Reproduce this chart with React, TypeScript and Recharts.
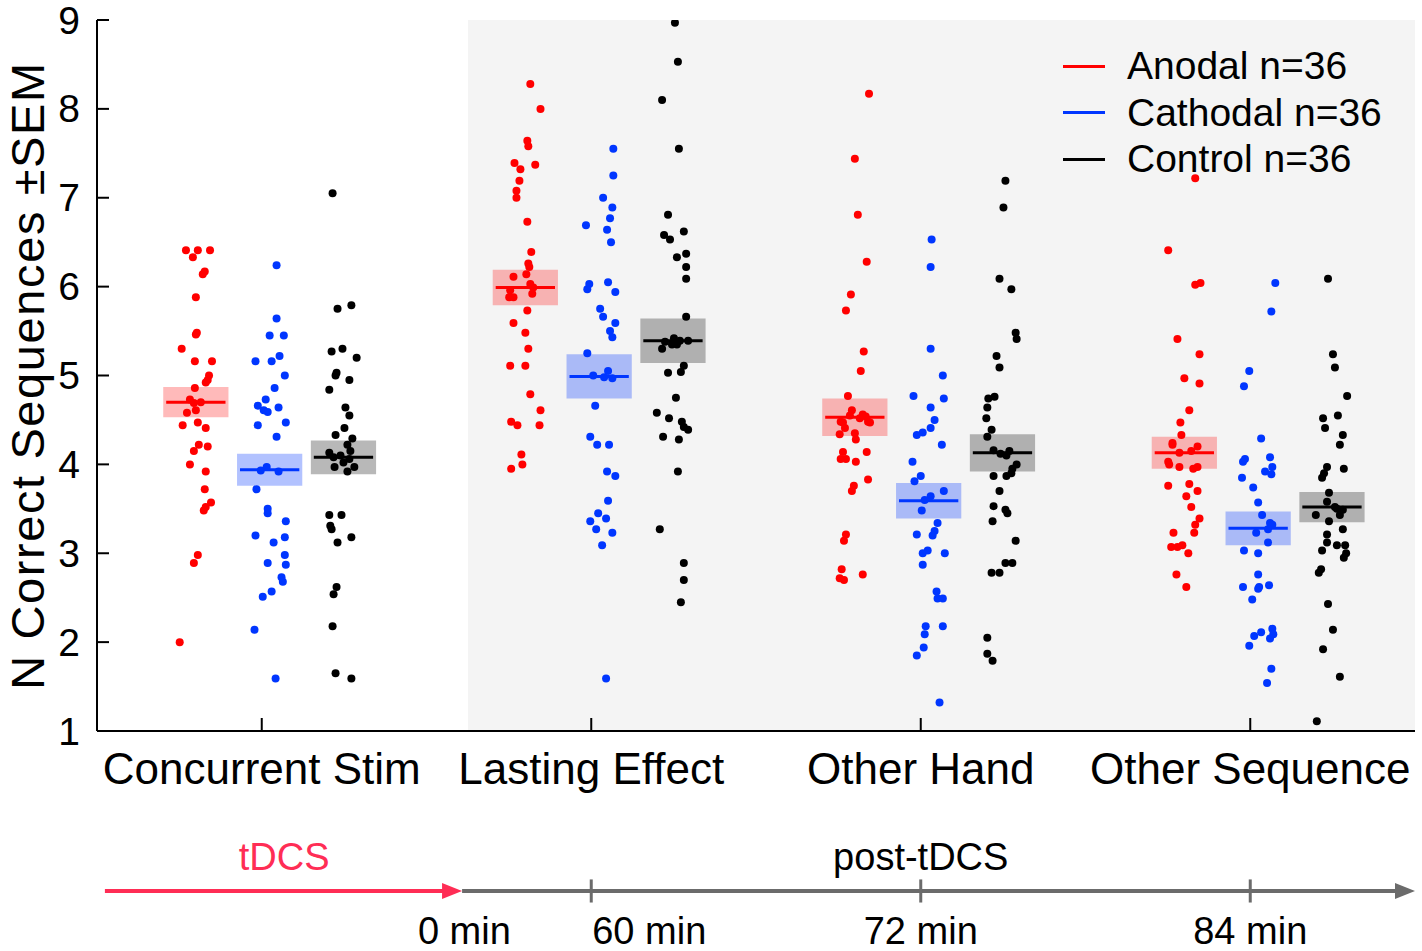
import React from 'react';
import { ComposedChart, Scatter, XAxis, YAxis, ReferenceArea, ReferenceLine, ReferenceDot } from 'recharts';

const FONT = '"Liberation Sans", Arial, Helvetica, sans-serif';

const groupNames = ['Concurrent Stim', 'Lasting Effect', 'Other Hand', 'Other Sequence'];
const yTicks = [1, 2, 3, 4, 5, 6, 7, 8, 9];
const conditionNames = ['Anodal n=36', 'Cathodal n=36', 'Control n=36'];
const conditionColors = ['#ff0000', '#0036ff', '#000000'];
const boxOpacity = [0.27, 0.3, 0.28];

// each point: [horizontal jitter (axis units), n correct sequences]
const anodalConcurrent = [
  [-0.030, 6.41], [0.006, 6.41], [0.043, 6.41], [-0.009, 6.33], [0.021, 6.14], [0.027, 6.17], [0, 5.88], [0, 5.46],
  [0.003, 5.48], [-0.043, 5.30], [-0.003, 5.16], [0.049, 5.16], [0.040, 5.00], [0.036, 4.95], [0.030, 4.92], [-0.003, 4.86],
  [-0.018, 4.73], [-0.006, 4.69], [0.015, 4.70], [-0.027, 4.58], [0, 4.61], [-0.040, 4.44], [0.006, 4.47], [0.030, 4.41],
  [0.009, 4.22], [0.036, 4.20], [-0.006, 4.15], [-0.018, 4.00], [0.030, 3.92], [0.027, 3.72], [0.046, 3.57], [0.030, 3.52],
  [0.024, 3.48], [0.006, 2.98], [-0.006, 2.89], [-0.049, 2.00],
];
const cathodalConcurrent = [
  [0.021, 6.24], [0.021, 5.64], [0, 5.45], [0.043, 5.45], [0.030, 5.22], [-0.043, 5.16], [0.006, 5.16], [0.046, 5.00],
  [0.015, 4.86], [-0.012, 4.73], [-0.036, 4.66], [-0.018, 4.61], [-0.006, 4.59], [0.027, 4.64], [-0.036, 4.44], [0.049, 4.47],
  [0.021, 4.31], [-0.009, 3.97], [0.027, 3.92], [-0.027, 3.93], [-0.040, 3.72], [-0.006, 3.50], [-0.006, 3.45], [0.049, 3.36],
  [-0.043, 3.20], [0.046, 3.18], [0.012, 3.12], [0.046, 2.98], [-0.006, 2.89], [0.049, 2.87], [0.036, 2.73], [0.040, 2.68],
  [0.006, 2.57], [-0.021, 2.51], [-0.046, 2.14], [0.018, 1.59],
];
const controlConcurrent = [
  [-0.033, 7.05], [-0.018, 5.75], [0.024, 5.79], [-0.036, 5.27], [-0.003, 5.30], [0.040, 5.20], [-0.021, 5.03], [-0.024, 5.00],
  [0.018, 4.95], [-0.043, 4.84], [0.006, 4.64], [0.018, 4.55], [0.003, 4.41], [-0.024, 4.33], [0.027, 4.29], [0.012, 4.22],
  [0.021, 4.15], [-0.043, 4.13], [-0.030, 4.08], [-0.009, 4.10], [0.018, 4.06], [0, 4.02], [-0.027, 3.97], [0.033, 3.97],
  [0.012, 3.92], [-0.043, 3.43], [-0.006, 3.43], [-0.040, 3.31], [-0.036, 3.27], [0.024, 3.18], [-0.018, 3.12], [-0.021, 2.62],
  [-0.030, 2.54], [-0.033, 2.18], [-0.024, 1.65], [0.024, 1.59],
];

const anodalLasting = [
  [0.015, 8.28], [0.046, 8.00], [0.006, 7.64], [0.009, 7.58], [-0.033, 7.39], [-0.015, 7.32], [0.030, 7.37], [-0.018, 7.19],
  [-0.027, 7.08], [-0.027, 7.00], [0.006, 6.73], [0.018, 6.39], [0.009, 6.26], [0.012, 6.22], [-0.036, 6.11], [0.003, 6.14],
  [0.015, 6.03], [-0.046, 5.96], [0.024, 5.99], [0.021, 5.92], [-0.049, 5.88], [-0.036, 5.88], [0.006, 5.73], [-0.036, 5.59],
  [0, 5.48], [0.009, 5.30], [-0.046, 5.11], [0, 5.11], [0.015, 4.79], [0.046, 4.61], [-0.043, 4.48], [-0.024, 4.44],
  [0.043, 4.44], [-0.012, 4.11], [-0.009, 4.00], [-0.043, 3.95],
];
const cathodalLasting = [
  [0.043, 7.55], [0.043, 7.25], [0.012, 7.00], [0.040, 6.89], [0.033, 6.77], [-0.040, 6.69], [0.024, 6.64], [0.036, 6.50],
  [0.027, 6.05], [-0.030, 6.03], [-0.036, 5.97], [0.049, 5.94], [0.003, 5.75], [0.012, 5.66], [0.049, 5.59], [0.033, 5.50],
  [0.040, 5.43], [-0.036, 5.25], [0.027, 5.05], [-0.018, 5.00], [0.015, 4.98], [0.040, 4.97], [-0.012, 4.66], [-0.027, 4.31],
  [-0.006, 4.22], [0.030, 4.22], [0.024, 3.92], [0.049, 3.87], [0.027, 3.59], [-0.003, 3.45], [0.021, 3.39], [-0.027, 3.36],
  [-0.009, 3.27], [0.040, 3.23], [0.009, 3.09], [0.021, 1.59],
];
const controlLasting = [
  [0.006, 8.97], [0.015, 8.53], [-0.033, 8.10], [0.018, 7.55], [-0.015, 6.81], [-0.027, 6.58], [-0.009, 6.53], [0.033, 6.62],
  [0.012, 6.33], [0.040, 6.37], [0.040, 6.22], [0.040, 6.09], [0.040, 5.66], [-0.024, 5.38], [0.003, 5.42], [-0.033, 5.30],
  [-0.003, 5.35], [0.012, 5.35], [0.021, 5.39], [0.046, 5.39], [0.033, 5.11], [0.024, 5.04], [-0.015, 5.03], [0.009, 4.75],
  [-0.049, 4.58], [-0.012, 4.52], [0.027, 4.48], [0.033, 4.42], [0.046, 4.39], [-0.030, 4.31], [0.018, 4.28], [0.015, 3.92],
  [-0.040, 3.27], [0.033, 2.89], [0.033, 2.70], [0.024, 2.45],
];

const anodalOtherHand = [
  [0.043, 8.17], [0, 7.44], [0.009, 6.81], [0.036, 6.28], [-0.012, 5.91], [-0.027, 5.73], [0.027, 5.27], [0.018, 5.05],
  [-0.021, 4.77], [-0.009, 4.61], [0.024, 4.56], [-0.015, 4.55], [0.015, 4.52], [0.033, 4.54], [-0.043, 4.48], [-0.036, 4.47],
  [0.040, 4.48], [0.046, 4.47], [-0.030, 4.41], [-0.046, 4.34], [0, 4.35], [0.003, 4.28], [-0.036, 4.14], [0.036, 4.14],
  [-0.043, 4.06], [-0.027, 4.06], [0.003, 4.03], [0.040, 3.83], [-0.003, 3.76], [-0.009, 3.70], [-0.027, 3.21], [-0.033, 3.14],
  [-0.040, 2.82], [-0.046, 2.72], [-0.033, 2.70], [0.024, 2.76],
];
const cathodalOtherHand = [
  [0.009, 6.53], [0.006, 6.22], [0.006, 5.30], [0.043, 5.00], [-0.046, 4.77], [0.046, 4.74], [0.006, 4.64], [0.018, 4.50],
  [0.006, 4.41], [-0.036, 4.33], [-0.018, 4.36], [0.040, 4.22], [-0.049, 4.03], [-0.024, 3.87], [-0.043, 3.81], [0.046, 3.70],
  [0.006, 3.64], [-0.012, 3.60], [-0.021, 3.48], [0.027, 3.34], [0.018, 3.25], [0.012, 3.20], [-0.036, 3.21], [-0.003, 3.03],
  [-0.018, 3.00], [0.049, 3.00], [-0.018, 2.87], [0.024, 2.57], [0.027, 2.49], [0.043, 2.49], [-0.009, 2.18], [0.043, 2.18],
  [-0.012, 2.09], [-0.015, 1.94], [-0.036, 1.85], [0.033, 1.32],
];
const controlOtherHand = [
  [0.009, 7.19], [0.003, 6.89], [-0.009, 6.09], [0.027, 5.97], [0.040, 5.48], [0.043, 5.41], [-0.018, 5.22], [-0.009, 5.09],
  [-0.043, 4.74], [-0.024, 4.76], [-0.046, 4.64], [-0.049, 4.52], [-0.033, 4.39], [-0.046, 4.31], [-0.027, 4.16], [-0.006, 4.12],
  [0.021, 4.15], [0.012, 4.10], [0.043, 4.00], [0.030, 3.95], [0.027, 3.90], [-0.027, 3.87], [0.012, 3.87], [-0.009, 3.70],
  [-0.027, 3.53], [0.009, 3.49], [0.015, 3.45], [-0.030, 3.36], [0.040, 3.14], [0.009, 2.89], [0.030, 2.89], [-0.033, 2.78],
  [-0.009, 2.78], [-0.046, 2.05], [-0.046, 1.87], [-0.030, 1.79],
];

const anodalOtherSequence = [
  [0.033, 7.22], [-0.049, 6.41], [0.033, 6.02], [0.049, 6.04], [-0.021, 5.41], [0.046, 5.24], [0, 4.97], [0.046, 4.91],
  [0.015, 4.61], [-0.012, 4.47], [-0.009, 4.33], [-0.036, 4.24], [-0.036, 4.22], [0.040, 4.20], [-0.015, 4.13], [0.021, 4.15],
  [-0.049, 4.03], [-0.046, 4.00], [-0.015, 3.97], [0.027, 3.95], [0.040, 3.97], [-0.049, 3.76], [0.015, 3.78], [0.040, 3.70],
  [0.006, 3.64], [0.021, 3.52], [0.046, 3.39], [0.033, 3.32], [0.030, 3.23], [-0.033, 3.23], [-0.040, 3.07], [-0.021, 3.07],
  [-0.006, 3.09], [0.012, 3.00], [-0.024, 2.76], [0.006, 2.62],
];
const cathodalOtherSequence = [
  [0.052, 6.04], [0.040, 5.72], [-0.027, 5.05], [-0.043, 4.88], [0.009, 4.29], [0.036, 4.08], [-0.040, 4.06], [-0.046, 4.03],
  [0.043, 3.97], [0.021, 3.92], [0.040, 3.89], [-0.049, 3.85], [-0.015, 3.74], [0, 3.57], [0.012, 3.43], [0.036, 3.34],
  [0.043, 3.32], [0.030, 3.27], [-0.006, 3.23], [0.030, 3.12], [-0.043, 3.03], [0, 3.00], [0, 2.76], [-0.046, 2.62],
  [0, 2.60], [0.003, 2.62], [0.033, 2.64], [-0.018, 2.48], [0.043, 2.15], [0.009, 2.11], [-0.012, 2.07], [0.046, 2.09],
  [0.036, 2.04], [-0.027, 1.96], [0.040, 1.70], [0.027, 1.54],
];
const controlOtherSequence = [
  [-0.012, 6.09], [0.003, 5.24], [0.009, 5.09], [0.046, 4.77], [-0.027, 4.52], [0.018, 4.55], [-0.021, 4.41], [0.033, 4.33],
  [0.024, 4.22], [-0.015, 3.97], [-0.024, 3.90], [-0.030, 3.85], [0.036, 3.95], [-0.009, 3.68], [-0.015, 3.58], [0.009, 3.52],
  [-0.049, 3.43], [0.015, 3.50], [0.024, 3.43], [0.033, 3.49], [-0.009, 3.36], [0.033, 3.27], [-0.015, 3.21], [-0.015, 3.12],
  [0.015, 3.09], [0.040, 3.09], [-0.030, 3.03], [0.043, 3.00], [0.036, 2.95], [-0.033, 2.82], [-0.040, 2.78], [-0.012, 2.43],
  [0.003, 2.14], [-0.027, 1.92], [0.024, 1.61], [-0.046, 1.11],
];

const anodalPoints = [anodalConcurrent, anodalLasting, anodalOtherHand, anodalOtherSequence];
const cathodalPoints = [cathodalConcurrent, cathodalLasting, cathodalOtherHand, cathodalOtherSequence];
const controlPoints = [controlConcurrent, controlLasting, controlOtherHand, controlOtherSequence];

const anodalMeans = [4.70, 5.99, 4.53, 4.13];
const cathodalMeans = [3.94, 4.99, 3.59, 3.28];
const controlMeans = [4.08, 5.39, 4.13, 3.52];
const anodalSem = [0.17, 0.2, 0.21, 0.18];
const cathodalSem = [0.18, 0.25, 0.2, 0.19];
const controlSem = [0.19, 0.25, 0.21, 0.17];

// timeline under the plot
const phaseLabels = ['tDCS', 'post-tDCS'];
const phaseLabelX = [1.068, 3.0];
const phaseStart = [0.524, 1.608];
const phaseEnd = [1.608, 4.5];
const phaseColors = ['#ff2d55', '#6b6b6b'];
const minuteLabels = ['0 min', '60 min', '72 min', '84 min'];
const minuteLabelX = [1.615, 2.176, 3.0, 4.0];
const minuteTickX = [2, 3, 4];

const conditionOffset = [-0.2, 0.024, 0.248];
const boxHalf = 0.099;
const lineHalf = 0.09;
const TIMELINE_Y = -0.8;

const allPoints = [anodalPoints, cathodalPoints, controlPoints];
const allMeans = [anodalMeans, cathodalMeans, controlMeans];
const allSem = [anodalSem, cathodalSem, controlSem];

const seriesData = allPoints.map((groups, c) =>
  groups.flatMap((pts, g) => pts.map(([j, v]) => ({ x: g + 1 + conditionOffset[c] + j, y: v })))
);

const YTick = (props: any) => {
  const { x, y, payload } = props;
  return (
    <g>
      <line x1={x} x2={x + 12} y1={y} y2={y} stroke="#000" strokeWidth={2} />
      <text x={x - 17} y={y} textAnchor="end" dominantBaseline="central" fontSize={39} fontFamily={FONT} fill="#000">
        {payload.value}
      </text>
    </g>
  );
};

const XTick = (props: any) => {
  const { x, y, payload } = props;
  return (
    <g>
      <line x1={x} x2={x} y1={y} y2={y - 13} stroke="#000" strokeWidth={2} />
      <text x={x} y={y + 53} textAnchor="middle" fontSize={44} fontFamily={FONT} fill="#000">
        {groupNames[payload.value - 1]}
      </text>
    </g>
  );
};

const arrowShape = (color: string) => (props: any) => {
  const { x1, y1, x2 } = props;
  return (
    <g>
      <line x1={x1} y1={y1} x2={x2 - 14} y2={y1} stroke={color} strokeWidth={4} />
      <polygon points={`${x2},${y1} ${x2 - 20},${y1 - 8} ${x2 - 20},${y1 + 8}`} fill={color} />
    </g>
  );
};

const textShape = (label: string, color: string) => (props: any) => (
  <text x={props.cx} y={props.cy} textAnchor="middle" fontSize={38} fontFamily={FONT} fill={color}>
    {label}
  </text>
);

const App: React.FC = () => {
  return (
    <div style={{ position: 'absolute', left: 0, top: 0, width: 1422, height: 951, background: '#fff', fontFamily: FONT }}>
      <ComposedChart width={1422} height={951} margin={{ top: 20, right: 7, bottom: 160, left: 0 }}>
        <XAxis
          dataKey="x"
          type="number"
          domain={[0.5, 4.5]}
          allowDataOverflow
          ticks={[1, 2, 3, 4]}
          interval={0}
          height={60}
          tickLine={false}
          tickSize={0}
          tickMargin={0}
          tick={<XTick />}
          axisLine={{ stroke: '#000', strokeWidth: 2 }}
        />
        <YAxis
          dataKey="y"
          type="number"
          domain={[1, 9]}
          allowDataOverflow
          ticks={yTicks}
          interval={0}
          width={97}
          tickLine={false}
          tickSize={0}
          tickMargin={0}
          tick={<YTick />}
          axisLine={{ stroke: '#000', strokeWidth: 2 }}
          label={{
            content: (p: any) => {
              const vb = p.viewBox;
              const cx = vb.x + 44;
              const cy = vb.y + vb.height / 2;
              return (
                <text
                  x={cx}
                  y={cy}
                  transform={`rotate(-90, ${cx}, ${cy})`}
                  textAnchor="middle"
                  fontSize={47}
                  letterSpacing={1.6}
                  fontFamily={FONT}
                  fill="#000"
                >
                  N Correct Sequences ±SEM
                </text>
              );
            },
          }}
        />
        <ReferenceArea x1={1.626} x2={4.5} y1={1} y2={9} fill="#f4f4f4" fillOpacity={1} stroke="none" ifOverflow="visible" />
        {allMeans.map((means, c) =>
          means.map((m, g) => {
            const cx = g + 1 + conditionOffset[c];
            return (
              <ReferenceArea
                key={`box-${c}-${g}`}
                x1={cx - boxHalf}
                x2={cx + boxHalf}
                y1={m - allSem[c][g]}
                y2={m + allSem[c][g]}
                fill={conditionColors[c]}
                fillOpacity={boxOpacity[c]}
                stroke="none"
                ifOverflow="visible"
              />
            );
          })
        )}
        {allMeans.map((means, c) =>
          means.map((m, g) => {
            const cx = g + 1 + conditionOffset[c];
            return (
              <ReferenceLine
                key={`mean-${c}-${g}`}
                segment={[{ x: cx - lineHalf, y: m }, { x: cx + lineHalf, y: m }]}
                stroke={conditionColors[c]}
                strokeWidth={3}
                ifOverflow="visible"
              />
            );
          })
        )}
        {seriesData.map((d, c) => (
          <Scatter
            key={conditionNames[c]}
            name={conditionNames[c]}
            data={d}
            fill={conditionColors[c]}
            isAnimationActive={false}
            shape={(p: any) => <circle cx={p.cx} cy={p.cy} r={4} fill={conditionColors[c]} />}
          />
        ))}
        {phaseLabels.map((lab, i) => (
          <ReferenceLine
            key={`phase-${i}`}
            segment={[{ x: phaseStart[i], y: TIMELINE_Y }, { x: phaseEnd[i], y: TIMELINE_Y }]}
            ifOverflow="visible"
            shape={arrowShape(phaseColors[i])}
          />
        ))}
        {minuteTickX.map((t) => (
          <ReferenceLine
            key={`mtick-${t}`}
            segment={[{ x: t, y: TIMELINE_Y + 0.13 }, { x: t, y: TIMELINE_Y - 0.13 }]}
            stroke={phaseColors[1]}
            strokeWidth={3}
            ifOverflow="visible"
          />
        ))}
        {phaseLabels.map((lab, i) => (
          <ReferenceDot
            key={`plab-${i}`}
            x={phaseLabelX[i]}
            y={TIMELINE_Y + 0.24}
            r={0}
            ifOverflow="visible"
            shape={textShape(lab, i === 0 ? phaseColors[0] : '#000')}
          />
        ))}
        {minuteLabels.map((lab, i) => (
          <ReferenceDot
            key={`mlab-${i}`}
            x={minuteLabelX[i]}
            y={TIMELINE_Y - 0.6}
            r={0}
            ifOverflow="visible"
            shape={textShape(lab, '#000')}
          />
        ))}
      </ComposedChart>
      <div style={{ position: 'absolute', left: 1063, top: 43 }}>
        {conditionNames.map((n, i) => (
          <div key={n} style={{ display: 'flex', alignItems: 'center', height: 46.5 }}>
            <span style={{ display: 'inline-block', width: 42, height: 3, background: conditionColors[i], marginRight: 22 }} />
            <span style={{ fontSize: 39, lineHeight: '46.5px', color: '#000', whiteSpace: 'nowrap' }}>{n}</span>
          </div>
        ))}
      </div>
    </div>
  );
};

export default App;
